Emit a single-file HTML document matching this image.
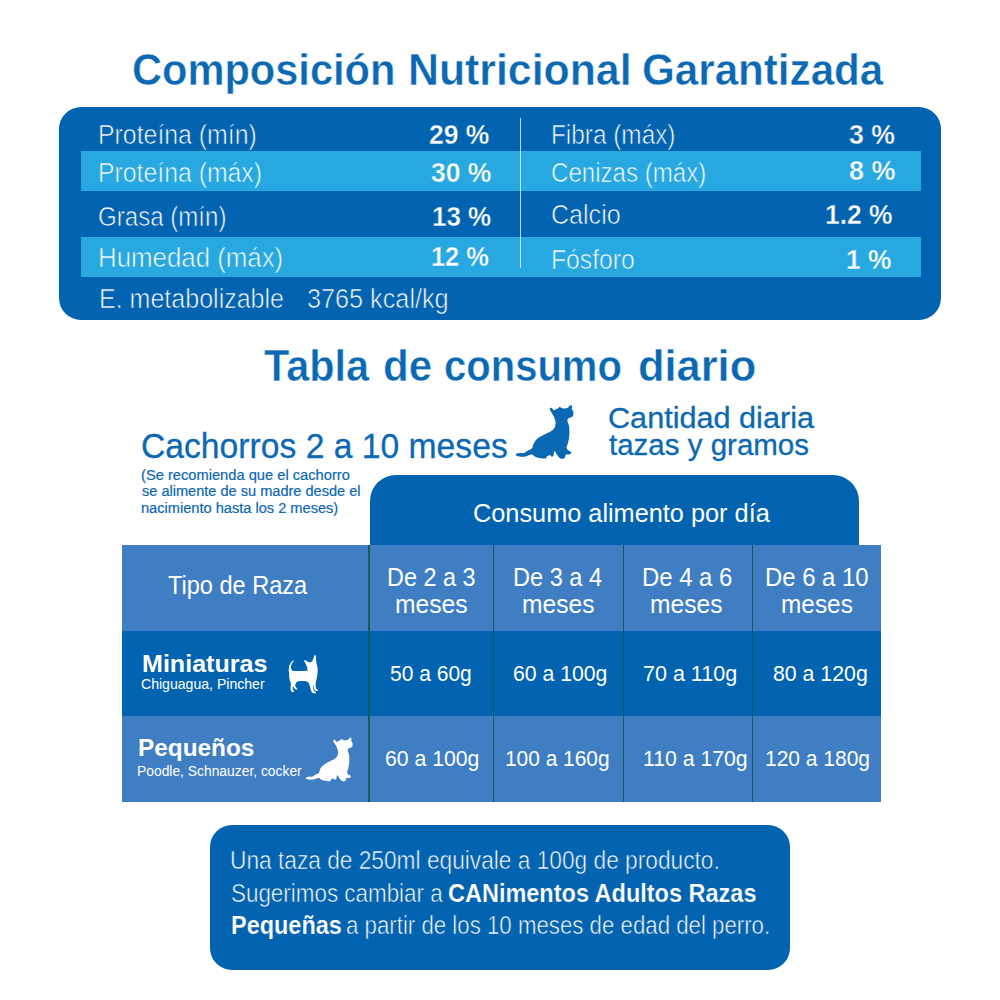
<!DOCTYPE html>
<html lang="es"><head><meta charset="utf-8"><title>Composición Nutricional Garantizada</title>
<style>
html,body{margin:0;padding:0;background:#fff;}
body{width:1000px;height:1000px;overflow:hidden;font-family:"Liberation Sans",sans-serif;}
#page{position:relative;width:1000px;height:1000px;overflow:hidden;background:#fff;}
.t{position:absolute;white-space:nowrap;line-height:1;transform-origin:0 0;display:block;}
.b{position:absolute;}

</style></head><body>
<div id="page">
<!-- top panel -->
<div class="b" style="left:59px;top:107px;width:882px;height:213px;border-radius:22px;background:#0263b0;"></div>
<div class="b" style="left:81px;top:151px;width:839.5px;height:40px;background:#27a8e0;"></div>
<div class="b" style="left:81px;top:237.3px;width:839.5px;height:40.1px;background:#27a8e0;"></div>
<div class="b" style="left:520px;top:118px;width:1px;height:150px;background:rgba(255,255,255,.75);"></div>
<!-- consumo header -->
<div class="b" style="left:369.5px;top:475.3px;width:489.5px;height:70.7px;border-radius:26px 26px 0 0;background:#0263b0;"></div>
<!-- table rows -->
<div class="b" style="left:122px;top:545px;width:759.4px;height:86px;background:#407ec4;"></div>
<div class="b" style="left:122px;top:631px;width:759.4px;height:85px;background:#0263b0;"></div>
<div class="b" style="left:122px;top:716px;width:759.4px;height:86px;background:#407ec4;"></div>
<!-- separators -->
<div class="b" style="left:368.2px;top:545px;width:1.6px;height:257px;background:linear-gradient(#145f55 0 86px,#045a60 86px 171px,#145f55 171px);"></div>
<div class="b" style="left:492.5px;top:545px;width:1.6px;height:257px;background:linear-gradient(#145f55 0 86px,#045a60 86px 171px,#145f55 171px);"></div>
<div class="b" style="left:622.8px;top:545px;width:1.6px;height:257px;background:linear-gradient(#145f55 0 86px,#045a60 86px 171px,#145f55 171px);"></div>
<div class="b" style="left:751.8px;top:545px;width:1.6px;height:257px;background:linear-gradient(#145f55 0 86px,#045a60 86px 171px,#145f55 171px);"></div>
<!-- bottom panel -->
<div class="b" style="left:210px;top:825px;width:580px;height:144.5px;border-radius:22px;background:#0263b0;"></div>
<!-- ICONS -->
<svg class="b" style="left:505px;top:395px;" width="80" height="70" viewBox="0 0 1000 875"><path fill="#0b68b3" d="M137 744 C144 734 149 731 176 726 C203 721 209 732 237 724 C265 716 255 711 281 696 C307 681 315 688 334 669 C353 650 340 651 351 626 C362 601 356 603 377 577 C398 551 397 552 430 529 C463 506 463 509 500 490 C537 471 540 476 570 457 C600 438 596 443 612 420 C628 397 627 399 630 370 C633 341 633 342 625 310 C617 278 612 275 600 250 C588 225 589 230 580 215 C571 200 570 207 565 195 C560 183 558 179 562 170 C566 161 570 157 580 160 C590 163 591 172 600 180 C609 188 604 191 615 190 C626 189 627 182 640 175 C653 168 654 172 665 165 C676 158 671 153 680 150 C689 147 689 151 700 155 C711 159 704 162 720 165 C736 168 741 168 760 165 C779 162 778 163 790 155 C802 147 794 142 805 135 C816 128 821 126 830 130 C839 134 837 138 838 150 C839 162 832 162 835 175 C838 188 845 183 850 200 C855 217 856 223 855 240 C854 257 854 254 845 265 C836 276 833 273 820 280 C807 287 806 279 795 290 C784 301 780 299 780 320 C780 341 788 341 795 370 C802 399 803 390 805 430 C807 470 806 476 802 520 C798 564 796 563 789 595 C782 627 779 623 774 640 C769 657 767 646 771 660 C775 674 776 678 789 691 C802 704 809 697 819 707 C829 717 831 719 825 729 C819 739 815 740 798 744 C781 748 774 738 762 745 C750 752 760 758 754 770 C748 782 752 783 741 790 C730 797 729 799 712 796 C695 793 695 794 678 780 C661 766 664 765 649 744 C634 723 632 705 622 702 C612 699 615 716 610 733 C605 750 610 754 602 764 C594 774 590 773 580 770 C570 767 579 753 565 752 C551 751 540 756 527 766 C514 776 529 781 517 788 C505 795 510 795 482 794 C454 793 442 791 412 784 C382 777 388 777 369 767 C350 757 361 750 342 746 C323 742 322 747 299 753 C276 759 283 764 255 769 C227 774 222 773 194 771 C166 769 165 769 150 762 C135 755 130 754 137 744Z"/></svg>
<svg class="b" style="left:297.3px;top:728.5px;" width="66" height="60" viewBox="0 0 1000 909"><g transform="translate(0,8) scale(0.985,0.985)"><path fill="#fff" d="M137 744 C144 734 149 731 176 726 C203 721 209 732 237 724 C265 716 255 711 281 696 C307 681 315 688 334 669 C353 650 340 651 351 626 C362 601 356 603 377 577 C398 551 397 552 430 529 C463 506 463 509 500 490 C537 471 540 476 570 457 C600 438 596 443 612 420 C628 397 627 399 630 370 C633 341 633 342 625 310 C617 278 612 275 600 250 C588 225 589 230 580 215 C571 200 570 207 565 195 C560 183 558 179 562 170 C566 161 570 157 580 160 C590 163 591 172 600 180 C609 188 604 191 615 190 C626 189 627 182 640 175 C653 168 654 172 665 165 C676 158 671 153 680 150 C689 147 689 151 700 155 C711 159 704 162 720 165 C736 168 741 168 760 165 C779 162 778 163 790 155 C802 147 794 142 805 135 C816 128 821 126 830 130 C839 134 837 138 838 150 C839 162 832 162 835 175 C838 188 845 183 850 200 C855 217 856 223 855 240 C854 257 854 254 845 265 C836 276 833 273 820 280 C807 287 806 279 795 290 C784 301 780 299 780 320 C780 341 788 341 795 370 C802 399 803 390 805 430 C807 470 806 476 802 520 C798 564 796 563 789 595 C782 627 779 623 774 640 C769 657 767 646 771 660 C775 674 776 678 789 691 C802 704 809 697 819 707 C829 717 831 719 825 729 C819 739 815 740 798 744 C781 748 774 738 762 745 C750 752 760 758 754 770 C748 782 752 783 741 790 C730 797 729 799 712 796 C695 793 695 794 678 780 C661 766 664 765 649 744 C634 723 632 705 622 702 C612 699 615 716 610 733 C605 750 610 754 602 764 C594 774 590 773 580 770 C570 767 579 753 565 752 C551 751 540 756 527 766 C514 776 529 781 517 788 C505 795 510 795 482 794 C454 793 442 791 412 784 C382 777 388 777 369 767 C350 757 361 750 342 746 C323 742 322 747 299 753 C276 759 283 764 255 769 C227 774 222 773 194 771 C166 769 165 769 150 762 C135 755 130 754 137 744Z"/></g></svg>
<svg class="b" style="left:278px;top:645px;" width="50" height="60" viewBox="0 0 833 1000"><path fill="#fff" d="M255 255 L215 290 L185 350 L178 420 L185 480 L185 540 L200 590 L215 640 L210 700 L210 750 L225 780 L260 785 L270 770 L245 740 L245 690 L260 700 L275 730 L305 745 L325 735 L300 710 L285 670 L300 630 L330 605 L400 598 L470 605 L505 625 L530 680 L545 740 L565 790 L600 810 L635 805 L630 785 L600 765 L585 720 L580 660 L595 700 L605 740 L630 765 L665 765 L660 745 L635 725 L625 680 L630 620 L650 540 L660 460 L660 380 L645 320 L635 260 L635 200 L625 170 L605 170 L590 220 L570 270 L540 290 L500 280 L465 260 L435 250 L440 280 L465 320 L485 370 L495 430 L400 435 L300 435 L235 430 L220 400 L215 350 L235 300 L265 265 Z"/></svg>
<span class="t" style="left:132.14px;top:47.50px;font-size:44.19px;font-weight:700;color:#0b68b3;transform:scaleX(0.9413);-webkit-text-stroke:0.45px #fff;">Composición</span>
<span class="t" style="left:408.12px;top:47.50px;font-size:44.19px;font-weight:700;color:#0b68b3;transform:scaleX(0.9687);-webkit-text-stroke:0.45px #fff;">Nutricional</span>
<span class="t" style="left:642.22px;top:47.50px;font-size:44.19px;font-weight:700;color:#0b68b3;transform:scaleX(0.9540);-webkit-text-stroke:0.45px #fff;">Garantizada</span>
<span class="t" style="left:98.34px;top:119.80px;font-size:28.20px;font-weight:400;color:#fff;transform:scaleX(0.8814);-webkit-text-stroke:0.7px #0263b0;">Proteína (mín)</span>
<span class="t" style="left:429.19px;top:120.70px;font-size:27.62px;font-weight:700;color:#fff;transform:scaleX(0.9597);-webkit-text-stroke:0.4px #0263b0;">29 %</span>
<span class="t" style="left:98.34px;top:157.90px;font-size:28.20px;font-weight:400;color:#fff;transform:scaleX(0.8798);-webkit-text-stroke:0.7px #27a8e0;">Proteína (máx)</span>
<span class="t" style="left:431.19px;top:158.70px;font-size:27.62px;font-weight:700;color:#fff;transform:scaleX(0.9597);-webkit-text-stroke:0.4px #27a8e0;">30 %</span>
<span class="t" style="left:98.25px;top:202.00px;font-size:28.20px;font-weight:400;color:#fff;transform:scaleX(0.8541);-webkit-text-stroke:0.7px #0263b0;">Grasa (mín)</span>
<span class="t" style="left:432.17px;top:203.00px;font-size:27.62px;font-weight:700;color:#fff;transform:scaleX(0.9393);-webkit-text-stroke:0.4px #0263b0;">13 %</span>
<span class="t" style="left:98.27px;top:242.70px;font-size:28.20px;font-weight:400;color:#fff;transform:scaleX(0.9166);-webkit-text-stroke:0.7px #27a8e0;">Humedad (máx)</span>
<span class="t" style="left:431.41px;top:243.40px;font-size:27.62px;font-weight:700;color:#fff;transform:scaleX(0.9197);-webkit-text-stroke:0.4px #27a8e0;">12 %</span>
<span class="t" style="left:98.72px;top:284.20px;font-size:28.20px;font-weight:400;color:#fff;transform:scaleX(0.8878);-webkit-text-stroke:0.7px #0263b0;">E. metabolizable</span>
<span class="t" style="left:307.01px;top:284.20px;font-size:28.20px;font-weight:400;color:#fff;transform:scaleX(0.8949);-webkit-text-stroke:0.7px #0263b0;">3765 kcal/kg</span>
<span class="t" style="left:551.37px;top:119.60px;font-size:28.20px;font-weight:400;color:#fff;transform:scaleX(0.8638);-webkit-text-stroke:0.7px #0263b0;">Fibra (máx)</span>
<span class="t" style="left:849.18px;top:121.00px;font-size:27.62px;font-weight:700;color:#fff;transform:scaleX(0.9652);-webkit-text-stroke:0.4px #0263b0;">3 %</span>
<span class="t" style="left:551.05px;top:157.90px;font-size:28.20px;font-weight:400;color:#fff;transform:scaleX(0.8547);-webkit-text-stroke:0.7px #27a8e0;">Cenizas (máx)</span>
<span class="t" style="left:848.67px;top:156.80px;font-size:27.62px;font-weight:700;color:#fff;transform:scaleX(0.9761);-webkit-text-stroke:0.4px #27a8e0;">8 %</span>
<span class="t" style="left:551.01px;top:199.90px;font-size:28.20px;font-weight:400;color:#fff;transform:scaleX(0.8895);-webkit-text-stroke:0.7px #0263b0;">Calcio</span>
<span class="t" style="left:824.74px;top:200.70px;font-size:27.62px;font-weight:700;color:#fff;transform:scaleX(0.9559);-webkit-text-stroke:0.4px #0263b0;">1.2 %</span>
<span class="t" style="left:551.35px;top:244.60px;font-size:28.20px;font-weight:400;color:#fff;transform:scaleX(0.8753);-webkit-text-stroke:0.7px #27a8e0;">Fósforo</span>
<span class="t" style="left:845.54px;top:245.80px;font-size:27.62px;font-weight:700;color:#fff;transform:scaleX(0.9533);-webkit-text-stroke:0.4px #27a8e0;">1 %</span>
<span class="t" style="left:263.93px;top:344.00px;font-size:44.19px;font-weight:700;color:#0b68b3;transform:scaleX(0.9376);-webkit-text-stroke:0.45px #fff;">Tabla</span>
<span class="t" style="left:382.72px;top:344.00px;font-size:44.19px;font-weight:700;color:#0b68b3;transform:scaleX(0.9531);-webkit-text-stroke:0.45px #fff;">de</span>
<span class="t" style="left:443.81px;top:344.00px;font-size:44.19px;font-weight:700;color:#0b68b3;transform:scaleX(0.9054);-webkit-text-stroke:0.45px #fff;">consumo</span>
<span class="t" style="left:637.66px;top:344.00px;font-size:44.19px;font-weight:700;color:#0b68b3;transform:scaleX(0.9825);-webkit-text-stroke:0.45px #fff;">diario</span>
<span class="t" style="left:141.24px;top:427.70px;font-size:35.18px;font-weight:400;color:#0b68b3;transform:scaleX(0.9571);-webkit-text-stroke:0.3px #0b68b3;">Cachorros 2 a 10 meses</span>
<span class="t" style="left:141.24px;top:468.80px;font-size:13.81px;font-weight:400;color:#0b68b3;transform:scaleX(1.0636);-webkit-text-stroke:0.2px #0b68b3;">(Se recomienda que el cachorro</span>
<span class="t" style="left:142.30px;top:485.20px;font-size:13.81px;font-weight:400;color:#0b68b3;transform:scaleX(1.0553);-webkit-text-stroke:0.2px #0b68b3;">se alimente de su madre desde el</span>
<span class="t" style="left:141.24px;top:501.80px;font-size:13.81px;font-weight:400;color:#0b68b3;transform:scaleX(1.0584);-webkit-text-stroke:0.2px #0b68b3;">nacimiento hasta los 2 meses)</span>
<span class="t" style="left:607.88px;top:404.00px;font-size:28.63px;font-weight:400;color:#0b68b3;transform:scaleX(1.0698);-webkit-text-stroke:0.3px #0b68b3;">Cantidad diaria</span>
<span class="t" style="left:608.95px;top:430.80px;font-size:28.63px;font-weight:400;color:#0b68b3;transform:scaleX(1.0306);-webkit-text-stroke:0.3px #0b68b3;">tazas y gramos</span>
<span class="t" style="left:473.29px;top:500.80px;font-size:25.00px;font-weight:400;color:#fff;transform:scaleX(1.0120);">Consumo alimento por día</span>
<span class="t" style="left:168.00px;top:573.40px;font-size:25.15px;font-weight:400;color:#fff;transform:scaleX(0.9362);">Tipo de Raza</span>
<span class="t" style="left:387.13px;top:565.00px;font-size:25.15px;font-weight:400;color:#fff;transform:scaleX(0.9326);">De 2 a 3</span>
<span class="t" style="left:395.34px;top:591.60px;font-size:25.15px;font-weight:400;color:#fff;transform:scaleX(0.9803);">meses</span>
<span class="t" style="left:513.03px;top:565.00px;font-size:25.15px;font-weight:400;color:#fff;transform:scaleX(0.9366);">De 3 a 4</span>
<span class="t" style="left:521.54px;top:591.60px;font-size:25.15px;font-weight:400;color:#fff;transform:scaleX(0.9789);">meses</span>
<span class="t" style="left:641.60px;top:565.00px;font-size:25.15px;font-weight:400;color:#fff;transform:scaleX(0.9500);">De 4 a 6</span>
<span class="t" style="left:650.04px;top:591.60px;font-size:25.15px;font-weight:400;color:#fff;transform:scaleX(0.9789);">meses</span>
<span class="t" style="left:765.40px;top:565.00px;font-size:25.15px;font-weight:400;color:#fff;transform:scaleX(0.9500);">De 6 a 10</span>
<span class="t" style="left:781.46px;top:591.60px;font-size:25.15px;font-weight:400;color:#fff;transform:scaleX(0.9704);">meses</span>
<span class="t" style="left:141.78px;top:651.50px;font-size:24.71px;font-weight:700;color:#fff;transform:scaleX(1.0156);">Miniaturas</span>
<span class="t" style="left:140.79px;top:677.50px;font-size:13.95px;font-weight:400;color:#fff;transform:scaleX(1.0099);">Chiguagua, Pincher</span>
<span class="t" style="left:389.54px;top:663.40px;font-size:21.80px;font-weight:400;color:#fff;transform:scaleX(0.9639);">50 a 60g</span>
<span class="t" style="left:512.83px;top:663.40px;font-size:21.80px;font-weight:400;color:#fff;transform:scaleX(0.9737);">60 a 100g</span>
<span class="t" style="left:642.51px;top:663.40px;font-size:21.80px;font-weight:400;color:#fff;transform:scaleX(0.9871);">70 a 110g</span>
<span class="t" style="left:773.32px;top:663.40px;font-size:21.80px;font-weight:400;color:#fff;transform:scaleX(0.9768);">80 a 120g</span>
<span class="t" style="left:138.41px;top:735.70px;font-size:24.71px;font-weight:700;color:#fff;transform:scaleX(0.9862);">Pequeños</span>
<span class="t" style="left:137.11px;top:765.40px;font-size:13.95px;font-weight:400;color:#fff;transform:scaleX(0.9933);">Poodle, Schnauzer, cocker</span>
<span class="t" style="left:384.53px;top:747.50px;font-size:21.80px;font-weight:400;color:#fff;transform:scaleX(0.9737);">60 a 100g</span>
<span class="t" style="left:504.54px;top:747.50px;font-size:21.80px;font-weight:400;color:#fff;transform:scaleX(0.9579);">100 a 160g</span>
<span class="t" style="left:642.53px;top:747.50px;font-size:21.80px;font-weight:400;color:#fff;transform:scaleX(0.9733);">110 a 170g</span>
<span class="t" style="left:764.74px;top:747.50px;font-size:21.80px;font-weight:400;color:#fff;transform:scaleX(0.9626);">120 a 180g</span>
<span class="t" style="left:229.72px;top:848.00px;font-size:24.86px;font-weight:400;color:#fff;transform:scaleX(0.9133);-webkit-text-stroke:0.6px #0263b0;">Una taza de 250ml equivale a 100g de producto.</span>
<span class="t" style="left:230.65px;top:880.70px;font-size:24.86px;font-weight:400;color:#fff;transform:scaleX(0.9013);-webkit-text-stroke:0.6px #0263b0;">Sugerimos cambiar a</span>
<span class="t" style="left:447.81px;top:880.70px;font-size:24.86px;font-weight:700;color:#fff;transform:scaleX(0.9449);-webkit-text-stroke:0.2px #0263b0;">CANimentos Adultos Razas</span>
<span class="t" style="left:230.81px;top:913.40px;font-size:24.86px;font-weight:700;color:#fff;transform:scaleX(0.9440);-webkit-text-stroke:0.2px #0263b0;">Pequeñas</span>
<span class="t" style="left:346.06px;top:913.40px;font-size:24.86px;font-weight:400;color:#fff;transform:scaleX(0.8949);-webkit-text-stroke:0.6px #0263b0;">a partir de los 10 meses de edad del perro.</span>
</div>
</body></html>
